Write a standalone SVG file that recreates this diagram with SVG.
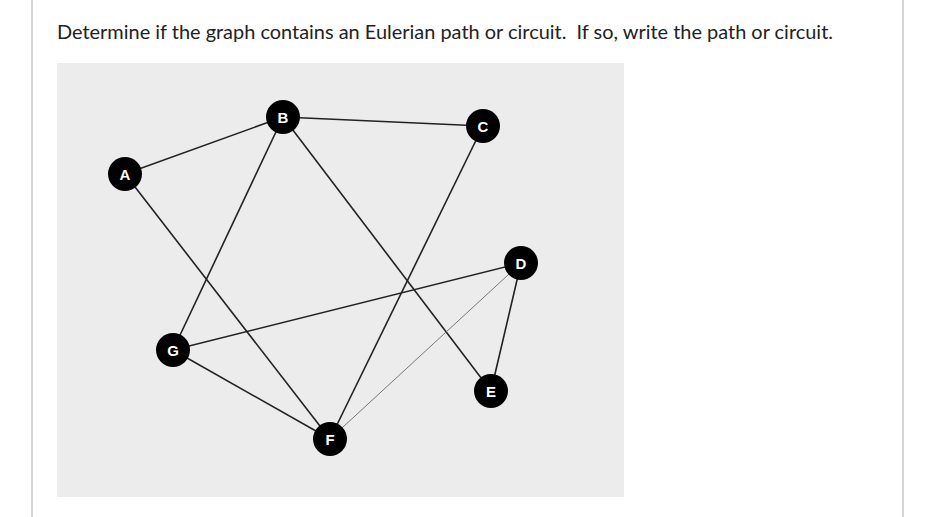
<svg xmlns="http://www.w3.org/2000/svg" width="937" height="517" viewBox="0 0 937 517">
<style>
.t{font-family:Lato,"Liberation Sans",sans-serif;font-size:19px;fill:#222;white-space:pre}
.e{stroke:#222;stroke-width:1.6;fill:none}
.n circle{fill:#000}
.n text{font-family:"Liberation Sans",Arial,sans-serif;font-weight:bold;font-size:15px;fill:#fff;text-anchor:middle}
</style>
<rect width="937" height="517" fill="#fff"/>
<line x1="32" y1="0" x2="32" y2="517" stroke="#aaa"/>
<line x1="903" y1="0" x2="903" y2="517" stroke="#aaa"/>
<text class="t" x="57" y="39" textLength="776" lengthAdjust="spacingAndGlyphs">Determine if the graph contains an Eulerian path or circuit.  If so, write the path or circuit.</text>
<rect x="57" y="63" width="567" height="434" fill="#ececec"/>
<g id="edges">
<line class="e" x1="125" y1="174" x2="283" y2="117"/>
<line class="e" x1="125" y1="174" x2="330" y2="439"/>
<line class="e" x1="283" y1="117" x2="483" y2="126"/>
<line class="e" x1="283" y1="117" x2="173" y2="350"/>
<line class="e" x1="283" y1="117" x2="491" y2="391"/>
<line class="e" x1="483" y1="126" x2="330" y2="439"/>
<line class="e" x1="521" y1="263" x2="173" y2="350"/>
<line x1="521" y1="263" x2="330" y2="439" stroke="#777" stroke-width="1"/>
<line class="e" x1="521" y1="263" x2="491" y2="391"/>
<line class="e" x1="173" y1="350" x2="330" y2="439"/>
</g>
<g id="A" class="n"><circle cx="125" cy="174" r="17"/><text x="125" y="179.5">A</text></g>
<g id="B" class="n"><circle cx="283" cy="117" r="17"/><text x="283" y="122.5">B</text></g>
<g id="C" class="n"><circle cx="483" cy="126" r="17"/><text x="483" y="131.5">C</text></g>
<g id="D" class="n"><circle cx="521" cy="263" r="17"/><text x="521" y="268.5">D</text></g>
<g id="E" class="n"><circle cx="491" cy="391" r="17"/><text x="491" y="396.5">E</text></g>
<g id="F" class="n"><circle cx="330" cy="439" r="17"/><text x="330" y="444.5">F</text></g>
<g id="G" class="n"><circle cx="173" cy="350" r="17"/><text x="173" y="355.5">G</text></g>
</svg>
